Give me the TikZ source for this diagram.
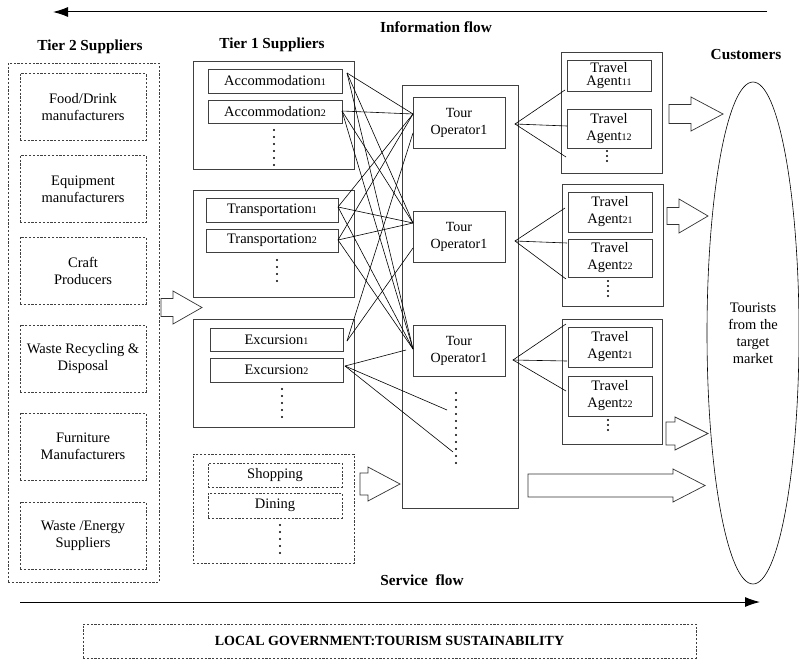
\documentclass[tikz,border=0pt]{standalone}
\usepackage{fontspec}
\setmainfont{Liberation Serif}
\usetikzlibrary{arrows.meta,shapes.geometric}
\newcommand{\sm}[1]{{\fontsize{10}{10}\selectfont #1}}
\newcommand{\blkarrow}[6]{\draw[blockarrow] (#1,#4-#5) -- (#2,#4-#5) -- (#2,#4-#6) -- (#3,#4) -- (#2,#4+#6) -- (#2,#4+#5) -- (#1,#4+#5) -- cycle;}
\tikzset{
 txt/.style={font=\fontsize{14.5}{17}\selectfont, align=center, inner sep=0pt},
 solidbox/.style={txt, draw=black!75, line width=0.7pt},
 dbox/.style={txt, draw=black!75, line width=0.6pt, dash pattern=on 2.2pt off 1.6pt},
 tobox/.style={solidbox, font=\fontsize{14}{17}\selectfont},
 vdots/.style={line width=2.2pt, dash pattern=on 0pt off 7pt, line cap=round},
 sdots/.style={line width=2.2pt, dash pattern=on 0pt off 5pt, line cap=round},
 conn/.style={draw=black, line width=0.6pt},
 blockarrow/.style={draw=black!80, line width=0.7pt, fill=white},
 hdr/.style={font=\bfseries\fontsize{15.3}{18}\selectfont, inner sep=0pt},
 flow/.style={line width=1pt, -{Latex[length=15pt,width=10pt]}},
}
\begin{document}
\begin{tikzpicture}[x=1pt,y=-1pt]
\useasboundingbox (0,0) rectangle (799,661);

% flows
\coordinate (infS) at (767,12); \coordinate (infE) at (53,12);
\draw[flow] (infS) -- (infE);
\node[hdr] (inflbl) at (436,27) {Information flow};
\coordinate (svS) at (20,602); \coordinate (svE) at (760,602);
\draw[flow] (svS) -- (svE);
\node[hdr] (svlbl) at (422,580) {Service~ flow};

% headers
\node[hdr] (h2) at (90,47) {Tier 2 Suppliers};
\node[hdr] (h1) at (272,45) {Tier 1 Suppliers};
\node[hdr] (hc) at (746,55) {Customers};

% tier 2
\node[dbox, minimum width=151pt, minimum height=519pt] (t2) at (83.5,322.5) {};
\node[dbox, minimum width=126pt, minimum height=67pt] (food) at (83,107) {Food/Drink\\manufacturers};
\node[dbox, minimum width=126pt, minimum height=67pt] (equip) at (83,189) {Equipment\\manufacturers};
\node[dbox, minimum width=126pt, minimum height=67pt] (craft) at (83,270.5) {Craft\\Producers};
\node[dbox, minimum width=126pt, minimum height=67pt] (waste) at (83,358.5) {Waste Recycling \&\\Disposal};
\node[dbox, minimum width=126pt, minimum height=67pt] (furn) at (83,446.5) {Furniture\\Manufacturers};
\node[dbox, minimum width=126pt, minimum height=67pt] (energy) at (83,535.5) {Waste /Energy\\Suppliers};

% tier 1
\node[solidbox, minimum width=161pt, minimum height=108pt] (accbox) at (273.5,115) {};
\node[solidbox, minimum width=134pt, minimum height=24pt] (acc1) at (275,81) {Accommodation\sm{1}};
\node[solidbox, minimum width=134pt, minimum height=23pt] (acc2) at (275,111.5) {Accommodation\sm{2}};
\coordinate (accd1) at (274,130); \coordinate (accd2) at (274,166);
\draw[vdots] (accd1) -- (accd2);

\node[solidbox, minimum width=161pt, minimum height=107pt] (trbox) at (273.5,243.5) {};
\node[solidbox, minimum width=132pt, minimum height=24pt] (tr1) at (272,210) {Transportation\sm{1}};
\node[solidbox, minimum width=132pt, minimum height=23pt] (tr2) at (272,240.5) {Transportation\sm{2}};
\coordinate (trd1) at (277,260); \coordinate (trd2) at (277,288);
\draw[vdots] (trd1) -- (trd2);

\node[solidbox, minimum width=161pt, minimum height=108pt] (exbox) at (273.5,373) {};
\node[solidbox, minimum width=133pt, minimum height=23pt] (ex1) at (276.5,339.5) {Excursion\sm{1}};
\node[solidbox, minimum width=133pt, minimum height=24pt] (ex2) at (276.5,370) {Excursion\sm{2}};
\coordinate (exd1) at (282,389); \coordinate (exd2) at (282,424);
\draw[vdots] (exd1) -- (exd2);

\node[dbox, minimum width=161pt, minimum height=109pt] (shbox) at (273.5,508.5) {};
\node[dbox, minimum width=134pt, minimum height=24pt] (shop) at (275,475) {Shopping};
\node[dbox, minimum width=134pt, minimum height=25pt] (dine) at (275,505.5) {Dining};
\coordinate (shd1) at (280,525); \coordinate (shd2) at (280,560);
\draw[vdots] (shd1) -- (shd2);

% tour operators
\node[solidbox, minimum width=116pt, minimum height=423pt] (tobig) at (460,296.5) {};
\node[tobox, minimum width=92pt, minimum height=51pt] (to1) at (459,122.5) {Tour\\Operator1};
\node[tobox, minimum width=92pt, minimum height=51pt] (to2) at (459,236.5) {Tour\\Operator1};
\node[tobox, minimum width=92pt, minimum height=51pt] (to3) at (459,350.5) {Tour\\Operator1};
\coordinate (tod1) at (456,393); \coordinate (tod2) at (456,470);
\draw[vdots] (tod1) -- (tod2);

% travel agents
\node[solidbox, minimum width=101pt, minimum height=121pt] (g1) at (611.5,112.5) {};
\node[solidbox, minimum width=84pt, minimum height=31pt, font=\fontsize{14.5}{13.5}\selectfont] (ta11) at (609,75.5) {Travel\\Agent\sm{11}};
\node[solidbox, minimum width=84pt, minimum height=39pt] (ta12) at (609,128.5) {Travel\\Agent\sm{12}};
\coordinate (g1d1) at (607,151); \coordinate (g1d2) at (607,165);
\draw[sdots] (g1d1) -- (g1d2);

\node[solidbox, minimum width=101pt, minimum height=122pt] (g2) at (612.5,245) {};
\node[solidbox, minimum width=84pt, minimum height=40pt] (ta21) at (610,212) {Travel\\Agent\sm{21}};
\node[solidbox, minimum width=84pt, minimum height=38pt] (ta22) at (610,258) {Travel\\Agent\sm{22}};
\coordinate (g2d1) at (608,281); \coordinate (g2d2) at (608,296);
\draw[sdots] (g2d1) -- (g2d2);

\node[solidbox, minimum width=100pt, minimum height=125pt] (g3) at (612,381.5) {};
\node[solidbox, minimum width=84pt, minimum height=40pt] (ta31) at (610,347) {Travel\\Agent\sm{21}};
\node[solidbox, minimum width=84pt, minimum height=40pt] (ta32) at (610,396) {Travel\\Agent\sm{22}};
\coordinate (g3d1) at (608,420); \coordinate (g3d2) at (608,433);
\draw[sdots] (g3d1) -- (g3d2);

% customers
\node[draw=black, line width=0.6pt, ellipse, minimum width=92pt, minimum height=502pt, inner sep=0pt] (cust) at (753,333) {};
\node[txt] (custlbl) at (753,333) {Tourists\\from the\\target\\market};

% supplier -> tour operator connectors
\coordinate (pa1) at (347,73); \coordinate (pa2) at (342,111);
\coordinate (pt1) at (338,207); \coordinate (pt2) at (338,240);
\coordinate (pe1) at (347,341); \coordinate (pe2) at (345,366);
\coordinate (o1a) at (413,114); \coordinate (o1b) at (413,133);
\coordinate (o2a) at (413,223); \coordinate (o2b) at (413,248);
\coordinate (o3a) at (413,349); \coordinate (o3b) at (406,350);
\coordinate (od1) at (447,410); \coordinate (od2) at (453,452);
\foreach \s in {pa1,pa2,pt1,pt2}{
  \draw[conn] (\s) -- (o1a);
  \draw[conn] (\s) -- (o2a);
  \draw[conn] (\s) -- (o3a);
}
\draw[conn] (pe1) -- (o1b);
\draw[conn] (pe1) -- (o2b);
\draw[conn] (pe2) -- (o3b);
\draw[conn] (pe2) -- (od1);
\draw[conn] (pe2) -- (od2);

% tour operator -> travel agents
\coordinate (q1) at (515,124);
\coordinate (q1a) at (565,90); \coordinate (q1b) at (567,126); \coordinate (q1c) at (566,157);
\draw[conn] (q1a) -- (q1) -- (q1c); \draw[conn] (q1) -- (q1b);
\coordinate (q2) at (515,241);
\coordinate (q2a) at (565,208); \coordinate (q2b) at (567,243); \coordinate (q2c) at (566,279);
\draw[conn] (q2a) -- (q2) -- (q2c); \draw[conn] (q2) -- (q2b);
\coordinate (q3) at (513,360);
\coordinate (q3a) at (566,324); \coordinate (q3b) at (567,361); \coordinate (q3c) at (566,391);
\draw[conn] (q3a) -- (q3) -- (q3c); \draw[conn] (q3) -- (q3b);

% block arrows
\blkarrow{161}{173}{202}{307.5}{9}{16.5}
\blkarrow{360}{368}{400}{484}{11}{17}
\blkarrow{669}{691}{723}{114}{9.5}{17}
\blkarrow{667}{679}{708}{216}{8.5}{17}
\blkarrow{666}{675}{708}{433.5}{11.5}{16.5}
\blkarrow{528}{673}{705}{485.5}{11.5}{16.5}

% local government
\node[dbox, minimum width=613pt, minimum height=34pt, font=\bfseries\fontsize{14}{16}\selectfont] (gov) at (389.5,641) {LOCAL GOVERNMENT:TOURISM SUSTAINABILITY};
\end{tikzpicture}
\end{document}
